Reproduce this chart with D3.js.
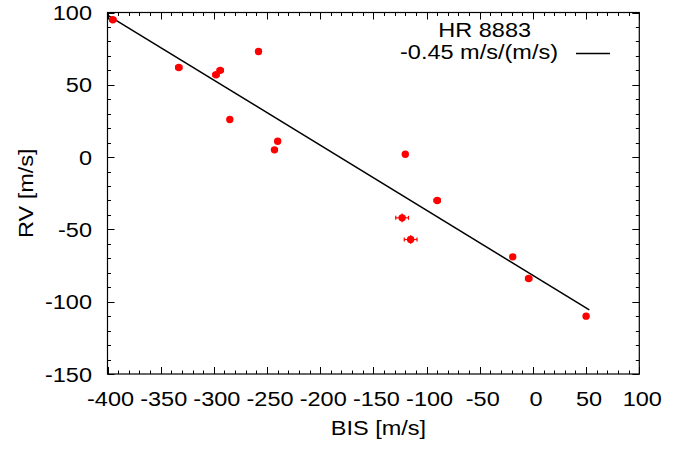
<!DOCTYPE html>
<html><head><meta charset="utf-8">
<script src="https://cdn.jsdelivr.net/npm/d3@7"></script>
<style>body{margin:0;background:#fff}svg{display:block}text{font-family:"Liberation Sans",Arial,sans-serif;fill:#000}</style>
</head><body>
<svg id="c" width="687" height="452"></svg>
<script>
// Data
const bis   = [-395, -333, -298, -294, -258, -285, -240, -243, -120, -90, -123, -115, -19, -4, 50];
const rv    = [  95,   62,   57,   60,   73,   26,   11,    5,    2, -30,  -42,  -57, -69, -84, -110];
const bisErr= [   3,    3,    3,    3,    2,    2,    2,    2,    2,   3,    6,    6,   2,   3,   2];
const rvErr = [   1,    1,    1,    1,    1,    1,    1,    1,    1,   1,    3,    3,   1,   1,   1];
const fitSlope = -0.45, fitIntercept = -81.8, fitRange = [-400, 53];
const xTicks = [-400,-350,-300,-250,-200,-150,-100,-50,0,50,100];
const yTicks = [-150,-100,-50,0,50,100];
const legendTitle = "HR 8883", legendEntry = "-0.45 m/s/(m/s)";
const xLabel = "BIS [m/s]", yLabel = "RV [m/s]";

const svg = d3.select("#c");
const L=107.5, R=639.3, T=12.5, B=374;
const x = d3.scaleLinear().domain([-400,100]).range([L,R]);
const y = d3.scaleLinear().domain([-150,100]).range([B,T]);
const FS = 21, SX = 1.12;
function txt(px, py, s, anchor, rot){
  const t = svg.append("text").attr("font-size",FS).attr("text-anchor",anchor||"middle")
    .attr("transform",`translate(${px},${py})${rot?` rotate(${rot})`:""} scale(${SX},1)`).text(s);
  return t;
}
// ticks
const g = svg.append("g").attr("stroke","#000").attr("stroke-width",1);
const xMinor = d3.range(-400,101,10), yMinor = d3.range(-150,101,10);
xMinor.forEach(v=>{
  const major = v%50===0, len = major?7:3.5, px=Math.round(x(v))+0.5;
  g.append("line").attr("x1",px).attr("x2",px).attr("y1",B).attr("y2",B-len);
  g.append("line").attr("x1",px).attr("x2",px).attr("y1",T).attr("y2",T+len);
});
yMinor.forEach(v=>{
  const major = v%50===0, len = major?7:3.5, py=Math.round(y(v))+0.5;
  g.append("line").attr("x1",L).attr("x2",L+len).attr("y1",py).attr("y2",py);
  g.append("line").attr("x1",R).attr("x2",R-len).attr("y1",py).attr("y2",py);
});
svg.append("rect").attr("x",L).attr("y",T).attr("width",R-L).attr("height",B-T)
  .attr("fill","none").attr("stroke","#000").attr("stroke-width",1.2);

xTicks.forEach(v=> txt(x(v)+3, 406, v));
yTicks.forEach(v=> txt(92, y(v)+7.5, v, "end"));
txt((L+R)/2+5, 435, xLabel);
txt(33, (T+B)/2, yLabel, "middle", -90);

// fit line
svg.append("line").attr("x1",x(fitRange[0])).attr("y1",y(fitSlope*fitRange[0]+fitIntercept))
  .attr("x2",x(fitRange[1])).attr("y2",y(fitSlope*fitRange[1]+fitIntercept))
  .attr("stroke","#000").attr("stroke-width",1.5);

// points with error bars
const pts = bis.map((b,i)=>({b, r:rv[i], eb:bisErr[i], er:rvErr[i]}));
const pg = svg.append("g");
pts.forEach(p=>{
  const e = pg.append("g").attr("stroke","#f00").attr("stroke-width",1.2);
  e.append("line").attr("x1",x(p.b-p.eb)).attr("x2",x(p.b+p.eb)).attr("y1",y(p.r)).attr("y2",y(p.r));
  e.append("line").attr("x1",x(p.b)).attr("x2",x(p.b)).attr("y1",y(p.r-p.er)).attr("y2",y(p.r+p.er));
  [p.b-p.eb,p.b+p.eb].forEach(v=>e.append("line").attr("x1",x(v)).attr("x2",x(v)).attr("y1",y(p.r)-2).attr("y2",y(p.r)+2));
  pg.append("circle").attr("cx",x(p.b)).attr("cy",y(p.r)).attr("r",3.7).attr("fill","#f00");
});

// legend
txt(484.7, 36.7, legendTitle);
txt(558, 59.3, legendEntry, "end");
svg.append("line").attr("x1",576).attr("x2",610).attr("y1",53.5).attr("y2",53.5).attr("stroke","#000").attr("stroke-width",1.5);
</script>
</body></html>
